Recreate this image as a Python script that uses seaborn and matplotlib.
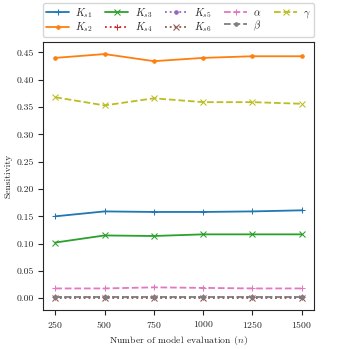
import numpy as np
import pandas as pd
import matplotlib
matplotlib.use("Agg")
import matplotlib.pyplot as plt
import seaborn as sns
from matplotlib.ticker import MultipleLocator, FormatStrFormatter

n_eval = [250, 500, 750, 1000, 1250, 1500]

Ks1 = [0.150, 0.159, 0.158, 0.158, 0.159, 0.161]
Ks2 = [0.440, 0.447, 0.434, 0.440, 0.443, 0.443]
Ks3 = [0.102, 0.115, 0.114, 0.117, 0.117, 0.117]
Ks4 = [0.002, 0.002, 0.002, 0.002, 0.002, 0.002]
Ks5 = [0.003, 0.003, 0.003, 0.003, 0.003, 0.003]
Ks6 = [0.001, 0.001, 0.001, 0.001, 0.001, 0.001]
alpha = [0.018, 0.018, 0.020, 0.019, 0.018, 0.018]
beta = [0.002, 0.002, 0.002, 0.002, 0.002, 0.002]
gamma = [0.368, 0.353, 0.366, 0.359, 0.359, 0.356]

series_names = [r"$K_{s1}$", r"$K_{s2}$", r"$K_{s3}$", r"$K_{s4}$", r"$K_{s5}$",
                r"$K_{s6}$", r"$\alpha$", r"$\beta$", r"$\gamma$"]
series_vals = [Ks1, Ks2, Ks3, Ks4, Ks5, Ks6, alpha, beta, gamma]

sns.set_style("ticks")
plt.rcParams["font.family"] = "serif"
plt.rcParams["font.serif"] = ["cmr10", "DejaVu Serif"]
plt.rcParams["mathtext.fontset"] = "cm"
plt.rcParams["axes.formatter.use_mathtext"] = True
plt.rcParams["font.size"] = 7

colors = sns.color_palette("tab10", 9)
markers = ["+", ".", "x", "+", ".", "x", "+", ".", "x"]
styles = ["-", "-", "-", ":", ":", ":", "--", "--", "--"]

fig, ax = plt.subplots(figsize=(3.49, 3.49), dpi=100)
for name, vals, c, m, ls in zip(series_names, series_vals, colors, markers, styles):
    sns.lineplot(x=n_eval, y=vals, ax=ax, color=c, marker=m, linestyle=ls,
                 label=name, markeredgecolor=c, markersize=5, linewidth=1.3)

ax.set_xticks(n_eval)
ax.yaxis.set_major_locator(MultipleLocator(0.05))
ax.yaxis.set_major_formatter(FormatStrFormatter("%.2f"))
ax.tick_params(labelsize=7, length=3.5, pad=3)
ax.set_xlabel("Number of model evaluation ($n$)", fontsize=7, labelpad=3)
ax.set_ylabel("Sensitivity", fontsize=7, labelpad=3)
ax.legend(loc="lower left", bbox_to_anchor=(0, 1.018, 1, 0.1), mode="expand",
          ncol=5, fontsize=7.5, borderaxespad=0, handlelength=2.2,
          handletextpad=0.6, columnspacing=0.5, fancybox=True,
          borderpad=0.3, labelspacing=0.05)
fig.subplots_adjust(left=0.123, right=0.9, bottom=0.112, top=0.88)
fig.savefig("out.png", dpi=100)
